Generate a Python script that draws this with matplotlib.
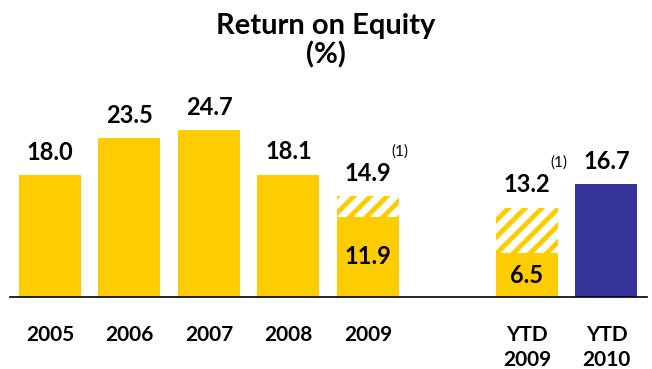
import numpy as np
import matplotlib.pyplot as plt

plt.rcParams['font.family'] = ['Lato', 'DejaVu Sans']

labels = ['2005', '2006', '2007', '2008', '2009', 'YTD\n2009', 'YTD\n2010']
positions = [0, 1, 2, 3, 4, 6, 7]
solid = [18.0, 23.5, 24.7, 18.1, 11.9, 6.5, 16.7]
totals = [18.0, 23.5, 24.7, 18.1, 14.9, 13.2, 16.7]
colors = ['#FFCC00'] * 6 + ['#333399']

yellow = '#FFCC00'
plt.rcParams['hatch.linewidth'] = 3.5
plt.rcParams['hatch.color'] = yellow

fig = plt.figure(figsize=(6.52, 3.69), dpi=100)
ax = fig.add_axes([10 / 652, 1 - 297 / 369, 637 / 652, 217 / 369])

width = 0.78
ax.bar(positions, solid, width, color=colors, linewidth=0, zorder=2)

# hatched part for the adjusted figures
for x, s, t in zip(positions, solid, totals):
    if t > s:
        ax.bar(x, t - s, width, bottom=s, facecolor='white', edgecolor=yellow,
               hatch='//', linewidth=0, zorder=2)
        ax.text(x, s / 2, '%.1f' % s, ha='center', va='center',
                fontsize=17, fontweight='bold')
        ax.text(x + 0.3, t + 5.6, '(1)', ha='left', va='bottom', fontsize=11)
    ax.text(x, t + 1.7, '%.1f' % t, ha='center', va='bottom',
            fontsize=17, fontweight='bold')

ax.set_xlim(-0.503, 7.51)
ax.set_ylim(0, 217 / 6.76)
ax.set_xticks(positions)
ax.set_xticklabels(labels, fontsize=15, fontweight='bold', linespacing=1.35)
ax.tick_params(axis='x', length=0, pad=20)
ax.set_yticks([])
for side in ['top', 'right', 'left']:
    ax.spines[side].set_visible(False)
ax.spines['bottom'].set_linewidth(1.2)

fig.text(0.5, 0.965, 'Return on Equity\n(%)', ha='center', va='top',
         fontsize=21, fontweight='bold', linespacing=1.1)

plt.savefig('out.png', dpi=100)
